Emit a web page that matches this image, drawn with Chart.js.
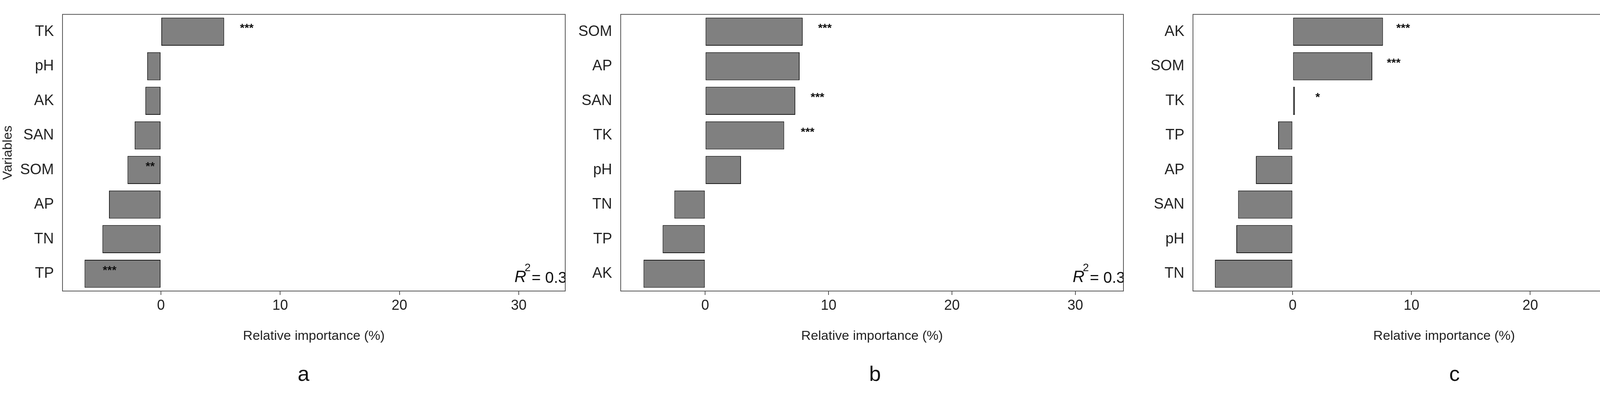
<!DOCTYPE html>
<html>
<head>
<meta charset="utf-8">
<script src="https://cdn.jsdelivr.net/npm/chart.js@4/dist/chart.umd.min.js"></script>
<style>
  body { margin: 0; background: #fff; width: 4368px; height: 1006px; position: relative; overflow: hidden; }
  .panel { position: absolute; top: 0; height: 1006px; }
  .tag { position: absolute; top: 925px; font: 54px "Liberation Sans", Arial, sans-serif; color: #111; }
</style>
</head>
<body>
<div class="panel" id="pa" style="left:0;width:1470px"><canvas id="ca"></canvas></div>
<div class="panel" id="pb" style="left:1470px;width:1430px"><canvas id="cb"></canvas></div>
<div class="panel" id="pc" style="left:2900px;width:1468px"><canvas id="cc"></canvas></div>
<div class="tag" style="left:762px">a</div>
<div class="tag" style="left:2225px">b</div>
<div class="tag" style="left:3710px">c</div>
<script>
// panel a
const labelsA = ['TK', 'pH', 'AK', 'SAN', 'SOM', 'AP', 'TN', 'TP'];
const valuesA = [5.3, -1.15, -1.3, -2.2, -2.8, -4.35, -4.9, -6.4];
const starsA = ['***', '', '', '', '**', '', '', '***'];
const starPosA = [7.2, 0, 0, 0, -0.9, 0, 0, -4.3];

// panel b
const labelsB = ['SOM', 'AP', 'SAN', 'TK', 'pH', 'TN', 'TP', 'AK'];
const valuesB = [7.9, 7.65, 7.3, 6.4, 2.9, -2.5, -3.45, -5.0];
const starsB = ['***', '', '***', '***', '', '', '', ''];
const starPosB = [9.7, 0, 9.1, 8.3, 0, 0, 0, 0];

// panel c
const labelsC = ['AK', 'SOM', 'TK', 'TP', 'AP', 'SAN', 'pH', 'TN'];
const valuesC = [7.6, 6.7, 0.18, -1.23, -3.1, -4.6, -4.75, -6.55];
const starsC = ['***', '***', '*', '', '', '', '', ''];
const starPosC = [9.3, 8.5, 2.1, 0, 0, 0, 0, 0];

const xTicks = [0, 10, 20, 30];
const rSquared = '0.3';

const FONT = '"Liberation Sans Narrow", "Liberation Sans", Arial, sans-serif';

const boxPlugin = {
  id: 'box',
  afterDraw(chart, args, opts) {
    const { ctx, chartArea: a, scales } = chart;
    ctx.save();
    ctx.strokeStyle = '#555';
    ctx.lineWidth = 2;
    ctx.strokeRect(a.left, a.top, a.right - a.left, a.bottom - a.top);
    // significance stars
    ctx.fillStyle = '#111';
    ctx.font = 'bold 30px ' + FONT;
    ctx.textAlign = 'center';
    ctx.textBaseline = 'middle';
    opts.stars.forEach((s, i) => {
      if (!s) return;
      ctx.fillText(s, scales.x.getPixelForValue(opts.starPos[i]), scales.y.getPixelForValue(i) - 8);
    });
    // R^2 label, clipped at the box edge
    ctx.beginPath();
    ctx.rect(a.left, a.top, a.right - a.left, a.bottom - a.top);
    ctx.clip();
    const y = scales.y.getPixelForValue(opts.stars.length - 1) + 10;
    const x = a.right - 130;
    ctx.textAlign = 'left';
    ctx.font = 'italic 42px ' + FONT;
    ctx.fillText('R', x, y);
    ctx.font = '28px ' + FONT;
    ctx.fillText('2', x + 26, y - 24);
    ctx.font = '40px ' + FONT;
    ctx.fillText('= ' + rSquared, x + 44, y + 2);
    ctx.restore();
  }
};

function makeChart(id, labels, values, stars, starPos, xMin, yWidth, rightPad, showTitle) {
  new Chart(document.getElementById(id), {
    type: 'bar',
    data: {
      labels: labels,
      datasets: [{
        data: values,
        backgroundColor: '#808080',
        borderColor: '#1a1a1a',
        borderWidth: 2,
        borderSkipped: false,
        categoryPercentage: 0.81,
        barPercentage: 1.0
      }]
    },
    options: {
      indexAxis: 'y',
      responsive: true,
      maintainAspectRatio: false,
      animation: false,
      layout: { padding: { top: 31, right: rightPad, bottom: 121, left: 0 } },
      plugins: {
        legend: { display: false },
        tooltip: { enabled: false },
        box: { stars: stars, starPos: starPos }
      },
      scales: {
        x: {
          min: xMin,
          max: 33.9,
          afterBuildTicks: s => { s.ticks = xTicks.map(v => ({ value: v })); },
          afterFit: s => { s.height = 140; },
          border: { display: false },
          grid: { drawOnChartArea: false, drawTicks: true, tickLength: 10, color: '#555', lineWidth: 2 },
          ticks: { color: '#222', font: { size: 36, family: FONT }, padding: 6 },
          title: { display: true, text: 'Relative importance (%)', color: '#222', font: { size: 34, family: FONT }, padding: { top: 12 } }
        },
        y: {
          afterFit: s => { s.width = yWidth; },
          border: { display: false },
          grid: { display: false },
          ticks: { color: '#222', font: { size: 38, family: FONT }, padding: 14 },
          title: { display: showTitle, text: 'Variables', color: '#222', font: { size: 34, family: FONT }, padding: 0 }
        }
      }
    },
    plugins: [boxPlugin]
  });
}

makeChart('ca', labelsA, valuesA, starsA, starPosA, -8.25, 160, 23, true);
makeChart('cb', labelsB, valuesB, starsB, starPosB, -6.85, 119, 24, false);
makeChart('cc', labelsC, valuesC, starsC, starPosC, -8.4, 154, 28, false);
</script>
</body>
</html>
